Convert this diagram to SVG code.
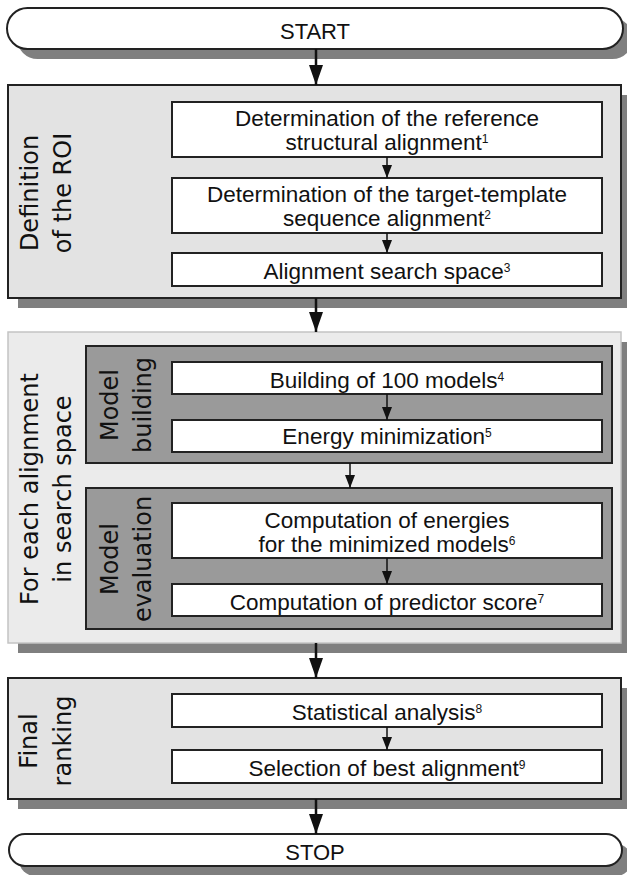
<svg xmlns="http://www.w3.org/2000/svg" width="627" height="875" viewBox="0 0 627 875">
<defs>
<style>
.shadow{fill:#7f7f7f}
.outer1{fill:#e3e3e3;stroke:#222;stroke-width:2}
.outer2{fill:#ebebeb;stroke:#c4c4c4;stroke-width:1.5}
.dark{fill:#9a9a9a;stroke:#222;stroke-width:2}
.white{fill:#fff;stroke:#222;stroke-width:2}
.t{font-family:"Liberation Sans",Arial,sans-serif;font-size:22.5px;fill:#111;text-anchor:middle}
.side{font-family:"DejaVu Sans",sans-serif;font-size:24px;fill:#111;text-anchor:middle}
.sup{font-size:12px}
.big{stroke:#111;stroke-width:2.5;fill:none;marker-end:url(#headBig)}
.small{stroke:#111;stroke-width:1.5;fill:none;marker-end:url(#headSmall)}
</style>
<marker id="headBig" markerUnits="userSpaceOnUse" markerWidth="20" markerHeight="14" refX="20" refY="7" orient="auto">
<path d="M0,0 L20,7 L0,14 z" fill="#111"/>
</marker>
<marker id="headSmall" markerUnits="userSpaceOnUse" markerWidth="13" markerHeight="10" refX="13" refY="5" orient="auto">
<path d="M0,0 L13,5 L0,10 z" fill="#111"/>
</marker>
</defs>
<rect width="627" height="875" fill="#fff"/>

<g id="start">
<rect class="shadow" x="17" y="18" width="616" height="41" rx="20.5"/>
<rect class="white" x="7" y="8" width="616" height="41" rx="20.5"/>
<text class="t" x="315" y="39" style="font-size:22px">START</text>
</g>

<g id="roi">
<rect class="shadow" x="18" y="95" width="613" height="213"/>
<rect class="outer1" x="8" y="85" width="613" height="213"/>
<text class="side" transform="translate(37.5,193) rotate(-90)">Definition<tspan x="0" dy="33.5">of the ROI</tspan></text>
</g>
<g id="ref-structural">
<rect class="white" x="172" y="102" width="430" height="55"/>
<text class="t" x="387" y="126">Determination of the reference<tspan x="387" dy="24">structural alignment</tspan><tspan class="sup" dy="-7">1</tspan></text>
</g>
<g id="target-template">
<rect class="white" x="172" y="178" width="430" height="55"/>
<text class="t" x="387" y="202">Determination of the target-template<tspan x="387" dy="24">sequence alignment</tspan><tspan class="sup" dy="-7">2</tspan></text>
</g>
<g id="search-space">
<rect class="white" x="172" y="253" width="430" height="33"/>
<text class="t" x="387" y="279">Alignment search space<tspan class="sup" dy="-7">3</tspan></text>
</g>

<g id="loop">
<rect class="shadow" x="18" y="342" width="613" height="311"/>
<rect class="outer2" x="8" y="332" width="613" height="311"/>
<text class="side" transform="translate(37.5,489) rotate(-90)">For each alignment<tspan x="0" dy="33.5">in search space</tspan></text>
</g>
<g id="model-building">
<rect class="dark" x="86" y="346" width="526" height="117"/>
<text class="side" transform="translate(118,405) rotate(-90)">Model<tspan x="0" dy="33">building</tspan></text>
</g>
<g id="build-models">
<rect class="white" x="172" y="362" width="430" height="32"/>
<text class="t" x="387" y="388">Building of 100 models<tspan class="sup" dy="-7">4</tspan></text>
</g>
<g id="energy-min">
<rect class="white" x="172" y="420" width="430" height="32"/>
<text class="t" x="387" y="444">Energy minimization<tspan class="sup" dy="-7">5</tspan></text>
</g>
<g id="model-evaluation">
<rect class="dark" x="86" y="488" width="526" height="141"/>
<text class="side" transform="translate(118,559) rotate(-90)">Model<tspan x="0" dy="33">evaluation</tspan></text>
</g>
<g id="energies">
<rect class="white" x="172" y="503" width="430" height="55"/>
<text class="t" x="387" y="528">Computation of energies<tspan x="387" dy="24">for the minimized models</tspan><tspan class="sup" dy="-7">6</tspan></text>
</g>
<g id="predictor">
<rect class="white" x="172" y="584" width="430" height="32"/>
<text class="t" x="387" y="610">Computation of predictor score<tspan class="sup" dy="-7">7</tspan></text>
</g>

<g id="final-ranking">
<rect class="shadow" x="18" y="688" width="613" height="121"/>
<rect class="outer1" x="8" y="678" width="613" height="121"/>
<text class="side" transform="translate(37,741) rotate(-90)">Final<tspan x="0" dy="34">ranking</tspan></text>
</g>
<g id="statistical">
<rect class="white" x="172" y="694" width="430" height="33"/>
<text class="t" x="387" y="720">Statistical analysis<tspan class="sup" dy="-7">8</tspan></text>
</g>
<g id="selection">
<rect class="white" x="172" y="750" width="430" height="33"/>
<text class="t" x="387" y="776">Selection of best alignment<tspan class="sup" dy="-7">9</tspan></text>
</g>

<g id="stop">
<rect class="shadow" x="19" y="844" width="613" height="32" rx="16"/>
<rect class="white" x="9" y="834" width="613" height="32" rx="16"/>
<text class="t" x="315" y="860" style="font-size:22px">STOP</text>
</g>

<g id="connectors">
<line class="big" x1="316" y1="49" x2="316" y2="85"/>
<line class="big" x1="316" y1="298" x2="316" y2="332"/>
<line class="big" x1="316" y1="643" x2="316" y2="678"/>
<line class="big" x1="316" y1="799" x2="316" y2="834"/>
<line class="small" x1="387" y1="157" x2="387" y2="178"/>
<line class="small" x1="387" y1="233" x2="387" y2="253"/>
<line class="small" x1="387" y1="394" x2="387" y2="420"/>
<line class="small" x1="350" y1="463" x2="350" y2="488"/>
<line class="small" x1="387" y1="558" x2="387" y2="584"/>
<line class="small" x1="387" y1="727" x2="387" y2="750"/>
</g>
</svg>
